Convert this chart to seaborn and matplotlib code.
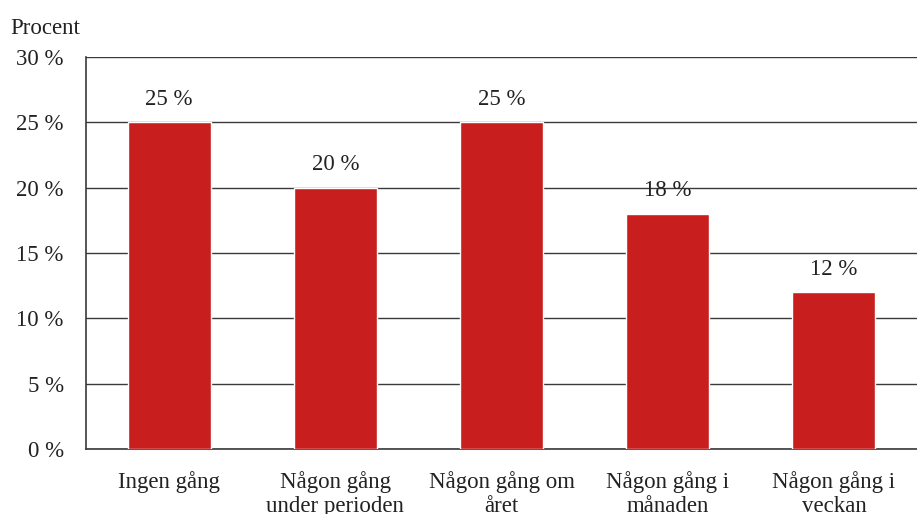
"""
Bar chart: how often (Procent)
"""

import matplotlib
matplotlib.use("Agg")
import matplotlib.pyplot as plt
import pandas as pd
import seaborn as sns

# Data
categories = ["Ingen gång", "Någon gång\nunder perioden", "Någon gång om\nåret",
              "Någon gång i\nmånaden", "Någon gång i\nveckan"]
values = [25, 20, 25, 18, 12]
yticks = [0, 5, 10, 15, 20, 25, 30]

df = pd.DataFrame({"kategori": categories, "procent": values})

sns.set_style("white")
plt.rcParams["font.family"] = ["Liberation Serif", "DejaVu Serif"]

FS = 16.5
TXT = "#222222"

fig = plt.figure(figsize=(9.17, 5.14), dpi=100)
ax = fig.add_axes([0.0938, 0.1265, 0.9062, 0.7625])

sns.barplot(data=df, x="kategori", y="procent", color="#C81E1E",
            saturation=1, width=0.5, edgecolor="white", linewidth=1,
            zorder=3, ax=ax)

# Value labels
for cont in ax.containers:
    ax.bar_label(cont, labels=[f"{v} %" for v in values], padding=9,
                 fontsize=FS, color=TXT)

ax.set_ylim(0, 30)
ax.set_yticks(yticks)
ax.set_yticklabels([f"{t} %" for t in yticks], fontsize=FS, color=TXT)
ax.set_xlim(-0.5, len(categories) - 0.5)
ax.set_xticks(range(len(categories)))
ax.set_xticklabels(categories, fontsize=FS, color=TXT, linespacing=1.2)
ax.tick_params(axis="x", length=0, pad=16)
ax.tick_params(axis="y", length=0, pad=16)
ax.set_xlabel("")
ax.set_ylabel("")

ax.yaxis.grid(True, color="#3a3a3a", linewidth=1)
ax.set_axisbelow(True)
for side in ["top", "right"]:
    ax.spines[side].set_visible(False)
for side in ["left", "bottom"]:
    ax.spines[side].set_color("#3a3a3a")
    ax.spines[side].set_linewidth(1.2)

fig.text(0.011, 0.945, "Procent", fontsize=FS, color=TXT, va="center")

plt.savefig("out.png", dpi=100)
plt.close()
